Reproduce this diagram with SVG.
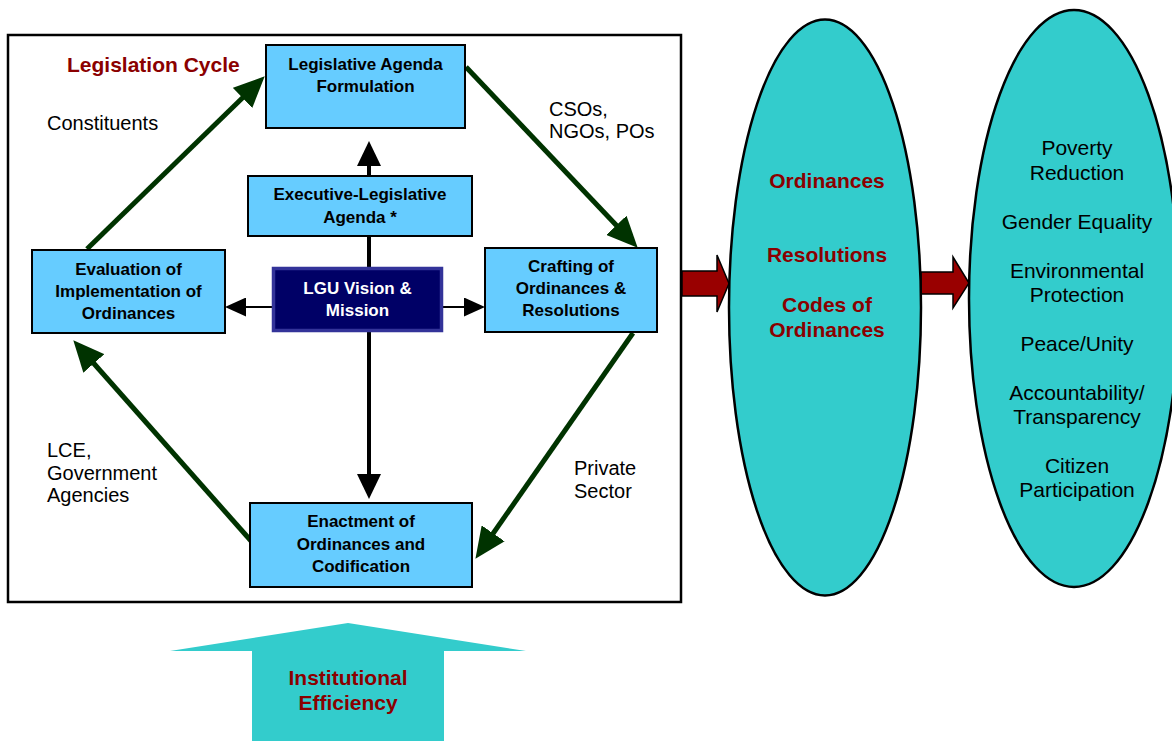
<svg xmlns="http://www.w3.org/2000/svg" width="1172" height="741" viewBox="0 0 1172 741">
  <defs>
    <style>
      .box { fill: #66CCFF; stroke: #000; stroke-width: 2; }
      .bt { font-family: "Liberation Sans", Arial, sans-serif; font-weight: bold; font-size: 17px; fill: #000; text-anchor: middle; }
      .lbl { font-family: "Liberation Sans", Arial, sans-serif; font-size: 20px; fill: #000; }
      .red { font-family: "Liberation Sans", Arial, sans-serif; font-weight: bold; font-size: 21px; fill: #8B0000; text-anchor: middle; }
      .goal { font-family: "Liberation Sans", Arial, sans-serif; font-size: 21px; fill: #000; text-anchor: middle; }
      .green { stroke: #003300; stroke-width: 5; fill: none; marker-end: url(#gHead); }
      .blk { stroke: #000; fill: none; }
      .oval { fill: #33CCCC; stroke: #000; stroke-width: 2.5; }
      .block { fill: #990000; stroke: #000; stroke-width: 1.5; }
    </style>
    <marker id="gHead" markerUnits="userSpaceOnUse" markerWidth="31" markerHeight="28" refX="12" refY="14" orient="auto">
      <path d="M0,0 L31,14 L0,28 z" fill="#003300"/>
    </marker>
    <marker id="bHeadV" markerUnits="userSpaceOnUse" markerWidth="25" markerHeight="24" refX="21" refY="12" orient="auto">
      <path d="M0,0 L25,12 L0,24 z" fill="#000"/>
    </marker>
    <marker id="bHeadH" markerUnits="userSpaceOnUse" markerWidth="21" markerHeight="19" refX="18" refY="9.5" orient="auto">
      <path d="M0,0 L21,9.5 L0,19 z" fill="#000"/>
    </marker>
  </defs>

  <rect width="1172" height="741" fill="#fff"/>

  <!-- outer frame of the cycle -->
  <rect id="frame" x="8" y="35" width="673" height="567" fill="#fff" stroke="#000" stroke-width="2.5"/>
  <text id="title" x="67" y="72" font-family="'Liberation Sans', Arial, sans-serif" font-weight="bold" font-size="21" fill="#8B0000">Legislation Cycle</text>

  <!-- connectors -->
  <g id="connectors">
    <line class="green" x1="87" y1="249" x2="251.1" y2="89.5"/>
    <line class="green" x1="466" y1="67" x2="624.6" y2="234"/>
    <line class="green" x1="633" y1="333" x2="486.3" y2="543.2"/>
    <line class="green" x1="252" y1="542" x2="85.9" y2="354.5"/>

    <line class="blk" stroke-width="4" x1="369" y1="176" x2="369" y2="145" marker-end="url(#bHeadV)"/>
    <line class="blk" stroke-width="4" x1="369" y1="236" x2="369" y2="268"/>
    <line class="blk" stroke-width="4" x1="369" y1="332" x2="369" y2="495" marker-end="url(#bHeadV)"/>
    <line class="blk" stroke-width="2" x1="272" y1="307" x2="228" y2="307" marker-end="url(#bHeadH)"/>
    <line class="blk" stroke-width="2" x1="443" y1="307" x2="482" y2="307" marker-end="url(#bHeadH)"/>

    <polygon class="block" points="682,271 717,271 717,255 729,283.5 717,312 717,296 682,296"/>
    <polygon class="block" points="921,272 953,272 953,257 969,283 953,308 953,294 921,294"/>
  </g>

  <!-- cycle nodes -->
  <g id="agenda-formulation">
    <rect class="box" x="266" y="45" width="199" height="83"/>
    <text class="bt" x="365.5" y="70">Legislative Agenda</text>
    <text class="bt" x="365.5" y="92">Formulation</text>
  </g>
  <g id="exec-leg-agenda">
    <rect class="box" x="248" y="176" width="224" height="60"/>
    <text class="bt" x="360" y="200">Executive-Legislative</text>
    <text class="bt" x="360" y="223">Agenda *</text>
  </g>
  <g id="evaluation">
    <rect class="box" x="32" y="250" width="193" height="83"/>
    <text class="bt" x="128.5" y="275">Evaluation of</text>
    <text class="bt" x="128.5" y="297">Implementation of</text>
    <text class="bt" x="128.5" y="319">Ordinances</text>
  </g>
  <g id="vision">
    <rect x="273.5" y="268.5" width="168" height="62" fill="#000066" stroke="#333399" stroke-width="3.5"/>
    <text class="bt" x="357.5" y="294" style="fill:#fff">LGU Vision &amp;</text>
    <text class="bt" x="357.5" y="316" style="fill:#fff">Mission</text>
  </g>
  <g id="crafting">
    <rect class="box" x="485" y="248" width="172" height="84"/>
    <text class="bt" x="571" y="272">Crafting of</text>
    <text class="bt" x="571" y="294">Ordinances &amp;</text>
    <text class="bt" x="571" y="316">Resolutions</text>
  </g>
  <g id="enactment">
    <rect class="box" x="250" y="503" width="222" height="84"/>
    <text class="bt" x="361" y="527">Enactment of</text>
    <text class="bt" x="361" y="550">Ordinances and</text>
    <text class="bt" x="361" y="572">Codification</text>
  </g>

  <!-- stakeholder labels -->
  <g id="labels">
    <text class="lbl" x="47" y="130">Constituents</text>
    <text class="lbl" x="549" y="116">CSOs,</text>
    <text class="lbl" x="549" y="138">NGOs, POs</text>
    <text class="lbl" x="47" y="457">LCE,</text>
    <text class="lbl" x="47" y="480">Government</text>
    <text class="lbl" x="47" y="502">Agencies</text>
    <text class="lbl" x="574" y="475">Private</text>
    <text class="lbl" x="574" y="498">Sector</text>
  </g>

  <!-- outputs -->
  <g id="outputs">
    <ellipse class="oval" cx="825" cy="307.5" rx="96" ry="288"/>
    <text class="red" x="827" y="188">Ordinances</text>
    <text class="red" x="827" y="262">Resolutions</text>
    <text class="red" x="827" y="312">Codes of</text>
    <text class="red" x="827" y="337">Ordinances</text>
  </g>

  <!-- outcomes -->
  <g id="outcomes">
    <ellipse class="oval" cx="1074" cy="298.5" rx="105" ry="288.5"/>
    <text class="goal" x="1077" y="155">Poverty</text>
    <text class="goal" x="1077" y="180">Reduction</text>
    <text class="goal" x="1077" y="229">Gender Equality</text>
    <text class="goal" x="1077" y="278">Environmental</text>
    <text class="goal" x="1077" y="302">Protection</text>
    <text class="goal" x="1077" y="351">Peace/Unity</text>
    <text class="goal" x="1077" y="400">Accountability/</text>
    <text class="goal" x="1077" y="424">Transparency</text>
    <text class="goal" x="1077" y="473">Citizen</text>
    <text class="goal" x="1077" y="497">Participation</text>
  </g>

  <!-- foundation arrow -->
  <g id="efficiency">
    <polygon points="348,623 526,651 444,651 444,741 252,741 252,651 170,651" fill="#33CCCC"/>
    <text class="red" x="348" y="685">Institutional</text>
    <text class="red" x="348" y="710">Efficiency</text>
  </g>
</svg>
